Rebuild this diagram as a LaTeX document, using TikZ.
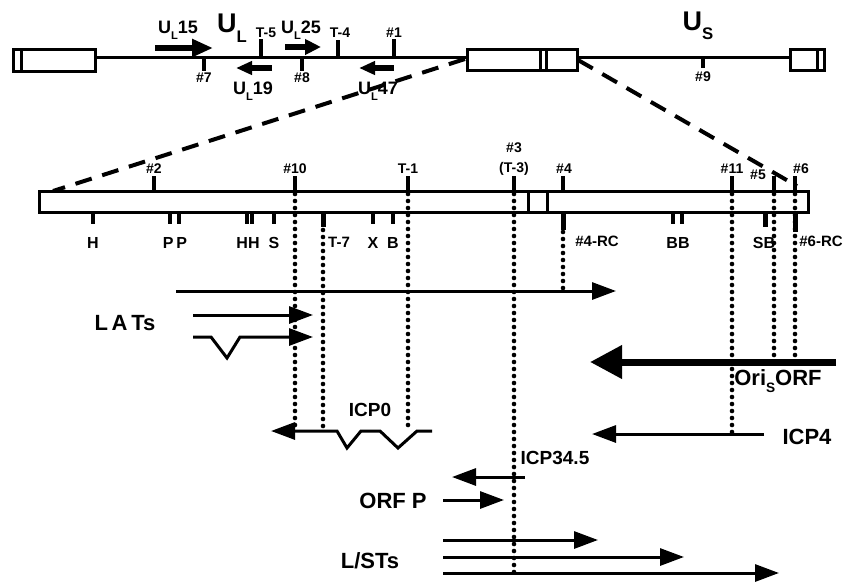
\documentclass[tikz,border=0pt]{standalone}
\usepackage{fontspec}
\setmainfont{Liberation Sans}
\usetikzlibrary{arrows.meta}
\newcommand\lowsub[1]{\raisebox{-0.35em}{\scalebox{0.62}{#1}}}
\begin{document}
\begin{tikzpicture}[x=1pt,y=-1pt,
  every node/.style={inner sep=0pt,outer sep=0pt,font=\bfseries},
  fs/.style={font=\fontsize{#1}{#1}\selectfont\bfseries},
  gline/.style={line width=3pt},
  gbox/.style={line width=3pt,fill=white},
  tick/.style={line width=3.2pt},
  thicktick/.style={line width=5pt},
  dots/.style={line width=4.6pt,line cap=round,dash pattern=on 0pt off 7pt},
  dashln/.style={line width=4pt,dash pattern=on 17pt off 11pt},
  tarrow/.style={line width=3pt,-{Triangle[length=24pt,width=17pt]}},
  toparrow/.style={line width=5.5pt,-{Triangle[length=#1]}},
  bigarrow/.style={line width=7pt,-{Triangle[length=32pt,width=32pt]}},
]
\useasboundingbox (0,0) rectangle (846,582);

% ---------- top genome ----------
\draw[gline] (95,57) -- (467,57);
\draw[gline] (577,57) -- (790,57);
\draw[gbox] (13,49) rectangle (95,71);
\draw[gline] (21,49) -- (21,71);
\draw[gbox] (467,49) rectangle (577,70);
\draw[gline] (540,49) -- (540,70);
\draw[gline] (546,49) -- (546,70);
\draw[gbox] (790,49) rectangle (824,70);
\draw[gline] (817,49) -- (817,70);

% ticks top
\foreach \x/\a/\b in {261/39/57,338/40/57,394/39/57,204/57/71,302/57/71,703/57/68}
  \draw[tick] (\x,\a) -- (\x,\b);
\node[fs=14] (t5) at (266,33) {T-5};
\node[fs=14] (t4) at (340,33) {T-4};
\node[fs=14] (n1) at (394,33) {\#1};
\node[fs=14] (n7) at (204,78) {\#7};
\node[fs=14] (n8) at (302,78) {\#8};
\node[fs=14] (n9) at (703,77) {\#9};

\node[fs=18] (ul15) at (178,30) {U\lowsub{L}15};
\node[fs=27] (ul) at (232,28) {U\lowsub{L}};
\node[fs=18] (ul25) at (301,30) {U\lowsub{L}25};
\node[fs=18] (ul19) at (253,91) {U\lowsub{L}19};
\node[fs=18] (ul47) at (378,91) {U\lowsub{L}47};
\node[fs=27] (us) at (698,26) {U\lowsub{S}};

\coordinate (a15s) at (155,48); \coordinate (a15e) at (213,48);
\coordinate (a25s) at (285,47); \coordinate (a25e) at (321,47);
\coordinate (a19s) at (272,68); \coordinate (a19e) at (236,68);
\coordinate (a47s) at (394,68); \coordinate (a47e) at (359,68);
\draw[line width=5.5pt,-{Triangle[length=21pt,width=17pt]}] (a15s) -- (a15e);
\draw[line width=5.5pt,-{Triangle[length=16pt,width=15pt]}] (a25s) -- (a25e);
\draw[line width=5.5pt,-{Triangle[length=16pt,width=13pt]}] (a19s) -- (a19e);
\draw[line width=5.5pt,-{Triangle[length=16pt,width=13pt]}] (a47s) -- (a47e);

% ---------- expansion dashes ----------
\coordinate (dl1) at (465,59); \coordinate (dl2) at (53,191);
\coordinate (dr1) at (578,60); \coordinate (dr2) at (797,186);
\draw[dashln] (dl1) -- (dl2);
\draw[dashln] (dr1) -- (dr2);

% ---------- middle map ----------
\draw[gbox] (39,191) rectangle (808,212);
\draw[gline] (528,191) -- (528,212);
\draw[gline] (547,191) -- (547,212);

\foreach \x in {154,295,408,514,563,732,774,795}
  \draw[tick] (\x,176) -- (\x,191);
\node[fs=14] (n2) at (154,169) {\#2};
\node[fs=14] (n10) at (295,169) {\#10};
\node[fs=14] (t1) at (408,169) {T-1};
\node[fs=14] (n3) at (514,148) {\#3};
\node[fs=14] (t3) at (514,169) {(T-3)};
\node[fs=14] (n4) at (564,169) {\#4};
\node[fs=14] (n11) at (732,169) {\#11};
\node[fs=14] (n5) at (758,175) {\#5};
\node[fs=14] (n6) at (801,169) {\#6};

\foreach \x in {93,170,179,247,252,274,373,393,673,682}
  \draw[tick] (\x,212) -- (\x,224);
\draw[thicktick] (323,212) -- (323,227);
\draw[thicktick] (765,212) -- (765,227);
\draw[thicktick] (563,212) -- (563,230);
\draw[thicktick] (795,212) -- (795,232);

\node[fs=16] (h1) at (93,243) {H};
\node[fs=16] (pp) at (175,243) {P\,P};
\node[fs=16] (hh) at (248,243) {HH};
\node[fs=16] (s1) at (274,243) {S};
\node[fs=15] (t7) at (339,242) {T-7};
\node[fs=16] (x1) at (373,243) {X};
\node[fs=16] (b1) at (393,243) {B};
\node[fs=15] (rc4) at (597,241) {\#4-RC};
\node[fs=16] (bb) at (678,243) {BB};
\node[fs=16] (sb) at (764,243) {SB};
\node[fs=15] (rc6) at (821,241) {\#6-RC};

% dotted verticals
\draw[dots] (295,194) -- (295,430);
\draw[dots] (323,230) -- (323,430);
\draw[dots] (408,194) -- (408,432);
\draw[dots] (514,194) -- (514,576);
\draw[dots] (563,232) -- (563,290);
\draw[dots] (732,194) -- (732,434);
\draw[dots] (774,194) -- (774,356);
\draw[dots] (795,194) -- (795,356);

% ---------- transcripts ----------
\coordinate (lng1) at (176,291); \coordinate (lng2) at (616,291);
\draw[tarrow] (lng1) -- (lng2);

\node[fs=22] (lats) at (125,323) {L\,A\,Ts};
\coordinate (la1) at (193,315); \coordinate (la1e) at (313,315);
\draw[tarrow] (la1) -- (la1e);
\coordinate (la2) at (193,337); \coordinate (la2e) at (313,337);
\draw[tarrow] (la2) -- (211,337) -- (227,358) -- (240,337) -- (la2e);

\coordinate (ori1) at (836,362); \coordinate (ori2) at (590,362);
\draw[bigarrow] (ori1) -- (ori2);
\node[fs=22] (oris) at (778,381) {Ori\lowsub{S}ORF};

\coordinate (i41) at (764,434); \coordinate (i42) at (592,434);
\draw[tarrow] (i41) -- (i42);
\node[fs=22] (icp4) at (807,437) {ICP4};

\coordinate (i01) at (432,431); \coordinate (i02) at (271,431);
\draw[tarrow] (i01) -- (417,431) -- (398,448) -- (380,431) -- (361,431) -- (347,448) -- (337,431) -- (i02);
\node[fs=19] (icp0) at (370,410) {ICP0};

\node[fs=19] (icp345) at (555,458) {ICP34.5};
\coordinate (i31) at (525,477); \coordinate (i32) at (452,477);
\draw[tarrow] (i31) -- (i32);

\node[fs=22] (orfp) at (393,501) {ORF P};
\coordinate (op1) at (443,500); \coordinate (op2) at (504,500);
\draw[tarrow] (op1) -- (op2);

\node[fs=22] (lsts) at (370,561) {L/STs};
\coordinate (ls1) at (443,540); \coordinate (ls1e) at (598,540);
\coordinate (ls2) at (443,557); \coordinate (ls2e) at (684,557);
\coordinate (ls3) at (443,573); \coordinate (ls3e) at (779,573);
\draw[tarrow] (ls1) -- (ls1e);
\draw[tarrow] (ls2) -- (ls2e);
\draw[tarrow] (ls3) -- (ls3e);
\end{tikzpicture}
\end{document}
